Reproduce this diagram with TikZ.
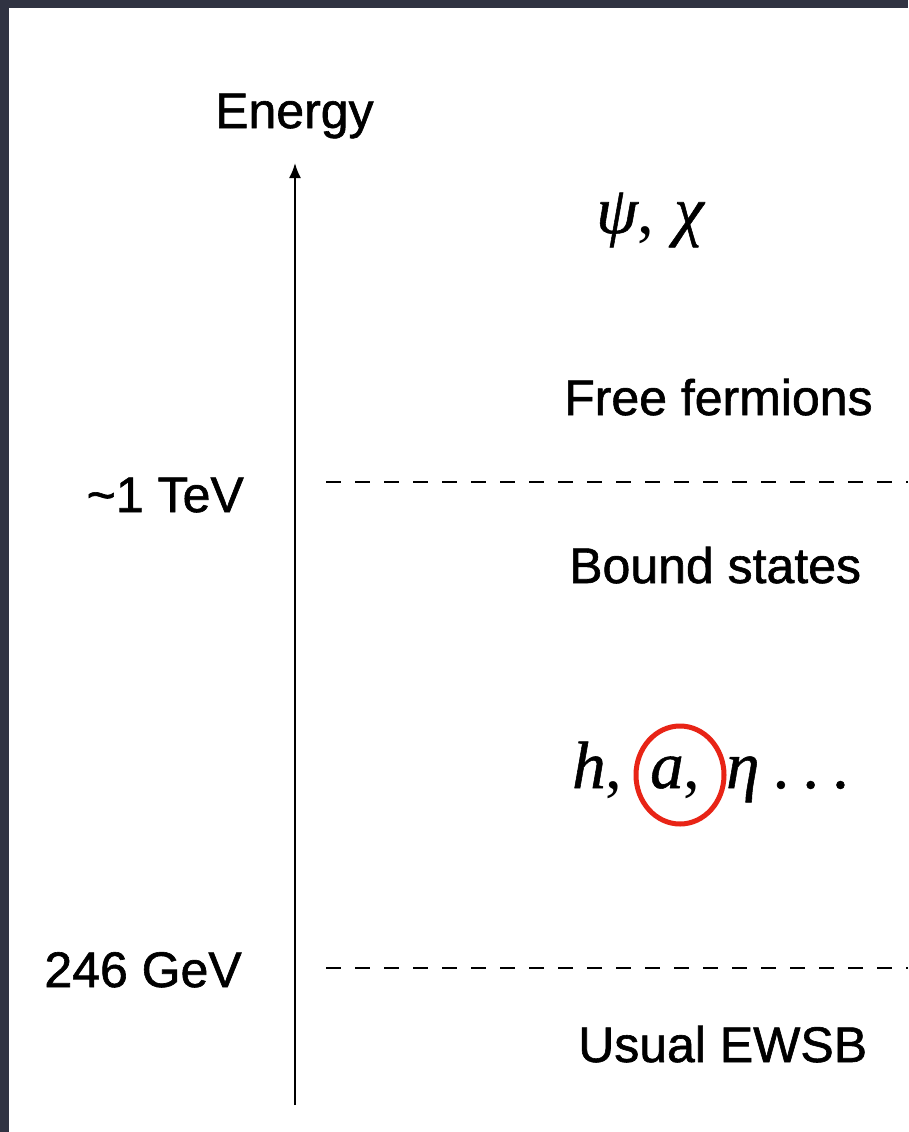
\documentclass[tikz,border=0pt]{standalone}
\usepackage{fontspec}
\setmainfont{Liberation Sans}[BoldFont={Liberation Sans}, BoldFeatures={FakeBold=1.2}]
\newfontfamily\tms{Liberation Serif}[ItalicFeatures={FakeBold=0.8}]
\usetikzlibrary{arrows.meta}
\definecolor{bgdark}{RGB}{48,51,66}
\definecolor{circred}{RGB}{232,36,22}
\begin{document}
\begin{tikzpicture}[x=1pt,y=-1pt,
  lbl/.style={font=\bfseries\fontsize{50}{60}\selectfont, inner sep=0pt, anchor=base west},
  mth/.style={font=\tms\itshape\fontsize{67}{76}\selectfont, inner sep=0pt, anchor=base west},
  axisline/.style={line width=2pt, -{Latex[length=15pt,width=12pt]}},
  level/.style={line width=2pt, dash pattern=on 15pt off 14pt},
  mark circle/.style={draw=circred, line width=5pt}]
\fill[bgdark] (0,0) rectangle (908,1132);
\fill[white] (9,8) rectangle (908,1132);
\useasboundingbox (0,0) rectangle (908,1132);
% axis
\node[lbl] (energy) at (215,128) {Energy};
\coordinate (axbot) at (295,1105);
\coordinate (axtop) at (295,163);
\draw[axisline] (axbot) -- (axtop);
% levels
\node[lbl, anchor=base east] (tev) at (244,512) {\char`\~1 TeV};
\node[lbl, anchor=base east] (gev) at (242,987) {246 GeV};
\coordinate (d1s) at (326,482);
\coordinate (d1e) at (908,482);
\coordinate (d2s) at (326,968);
\coordinate (d2e) at (908,968);
\draw[level] (d1s) -- (d1e);
\draw[level] (d2s) -- (d2e);
% labels right
\node[mth] (psi) at (596,233) {ψ{\upshape ,}};
\node[mth] (chi) at (674,233) {χ};
\node[lbl] (free) at (564,415) {Free fermions};
\node[lbl] (bound) at (569,583) {Bound states};
\node[mth] (h) at (572,788) {h{\upshape ,}};
\node[mth] (a) at (650,788) {a{\upshape ,}};
\node[mth] (eta) at (726,788) {η};
\node[mth] (dots) at (774,788) {.\hspace{13pt}.\hspace{13pt}.};
\draw[mark circle] (680,775) ellipse [x radius=44, y radius=49];
\node[lbl] (ewsb) at (578,1062) {Usual EWSB};
\end{tikzpicture}
\end{document}
